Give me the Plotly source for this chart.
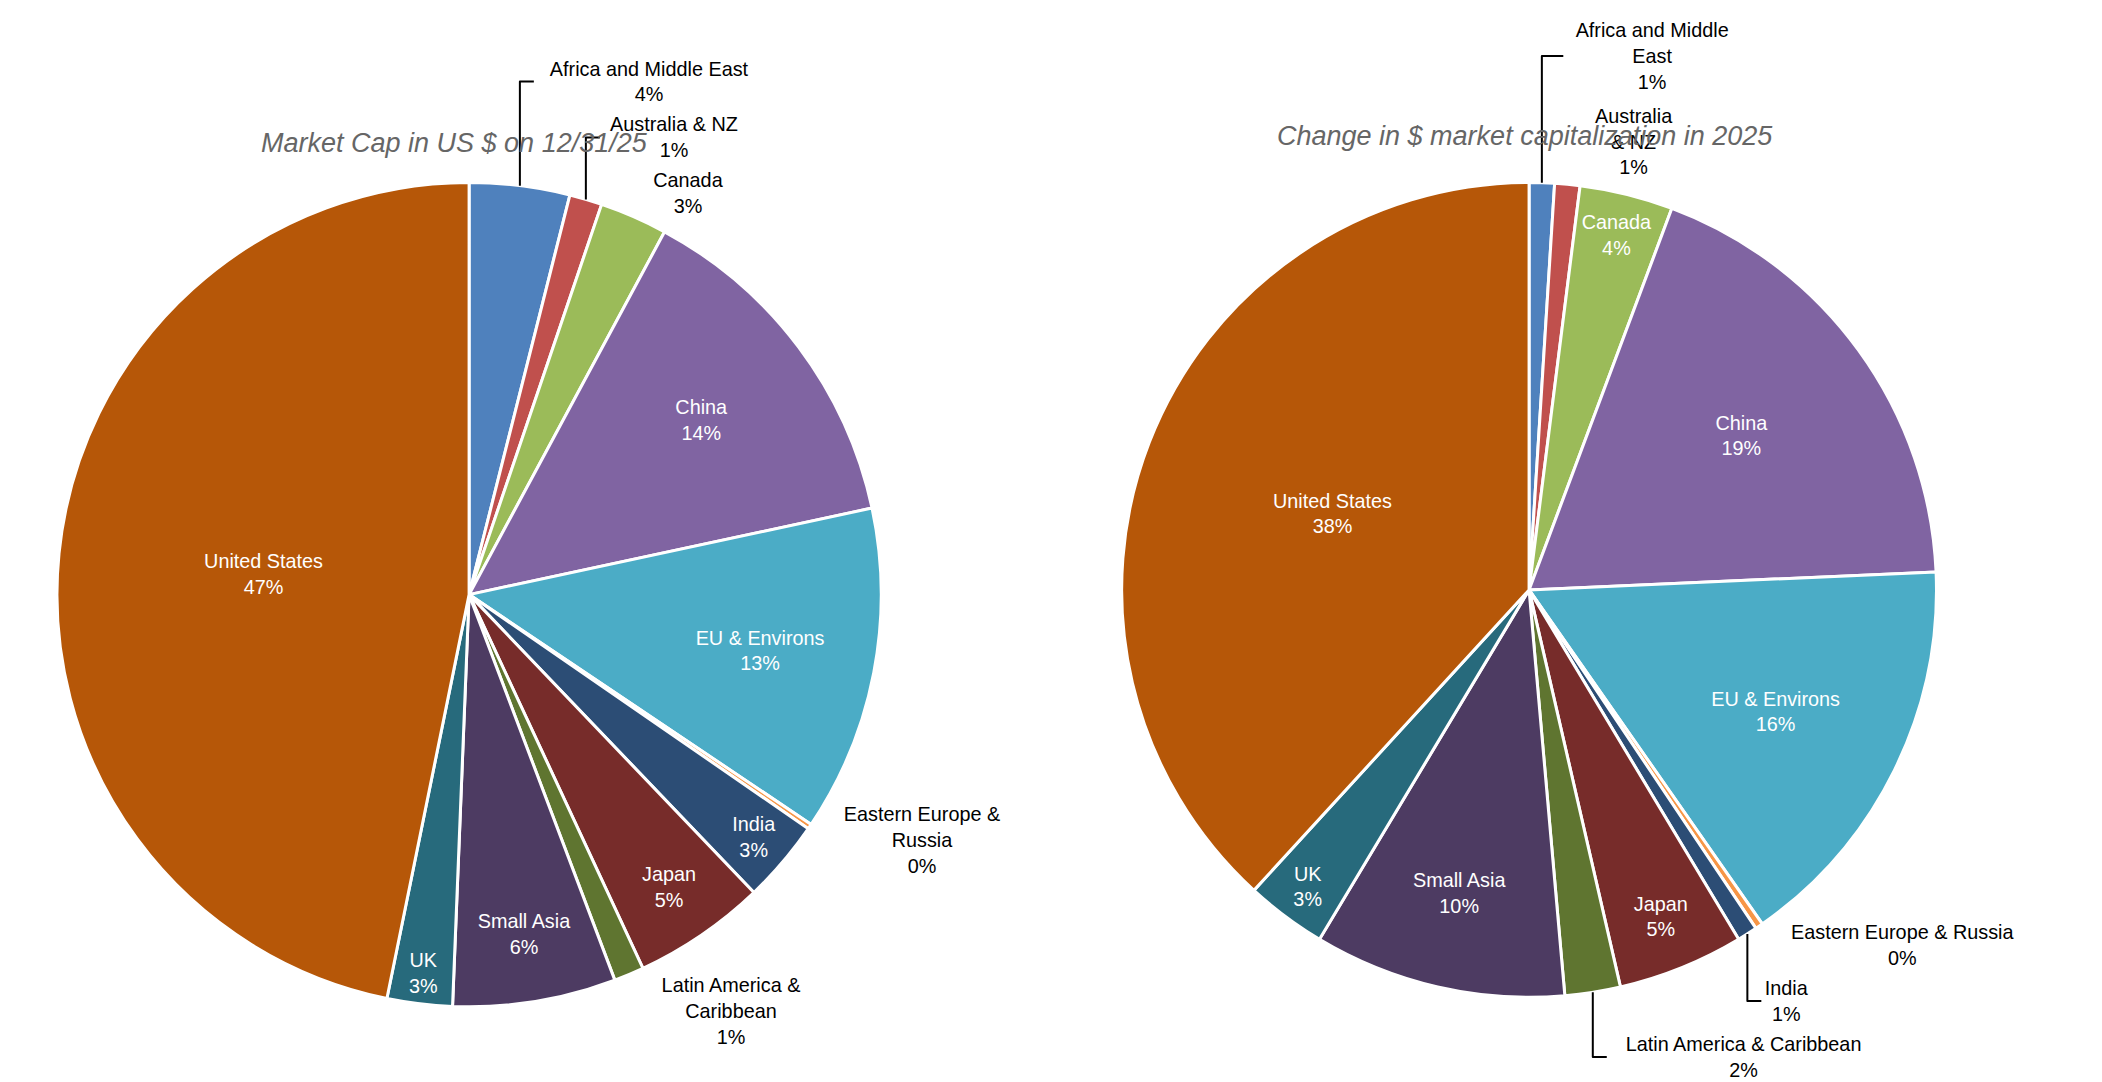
import plotly.graph_objects as go

# regions, clockwise from 12 o'clock
labels_left = ['Africa and Middle East', 'Australia & NZ', 'Canada', 'China', 'EU & Environs',
               'Eastern Europe &<br>Russia', 'India', 'Japan', 'Latin America &<br>Caribbean',
               'Small Asia', 'UK', 'United States']
labels_right = ['Africa and Middle<br>East', 'Australia<br>& NZ', 'Canada', 'China', 'EU & Environs',
                'Eastern Europe & Russia', 'India', 'Japan', 'Latin America & Caribbean',
                'Small Asia', 'UK', 'United States']
mcap_share = [4.0, 1.3, 2.7, 14.0, 13.0, 0.2, 3.3, 5.3, 1.2, 6.5, 2.6, 47.6]
change_share = [1.0, 1.0, 3.7, 18.6, 16.0, 0.3, 0.8, 5.0, 2.2, 10.0, 3.2, 38.2]

colors = ['#4F81BD', '#C0504D', '#9BBB59', '#8064A2', '#4BACC6', '#F79646',
          '#2C4D75', '#772C2A', '#5F7530', '#4D3B62', '#276A7C', '#B65708']

pos_left = ['outside', 'outside', 'outside', 'inside', 'inside', 'outside',
            'inside', 'inside', 'outside', 'inside', 'inside', 'inside']
pos_right = ['outside', 'outside', 'inside', 'inside', 'inside', 'outside',
             'outside', 'inside', 'outside', 'inside', 'inside', 'inside']

font = 'Liberation Sans, Arial, sans-serif'


def make_pie(labels, values, pos, dom):
    return go.Pie(
        labels=labels, values=values, sort=False, direction='clockwise', rotation=0,
        marker=dict(colors=colors, line=dict(color='white', width=3)),
        texttemplate='%{label}<br>%{percent:.0%}', textposition=pos,
        insidetextorientation='horizontal',
        insidetextfont=dict(color='white', size=23, family=font),
        outsidetextfont=dict(color='black', size=23, family=font),
        domain=dict(x=dom[0], y=dom[1]), showlegend=False, hoverinfo='label+percent',
    )


fig = go.Figure([
    make_pie(labels_left, mcap_share, pos_left, ([0.0, 0.43], [0.03, 0.905])),
    make_pie(labels_right, change_share, pos_right, ([0.52, 0.96], [0.04, 0.905])),
])

fig.update_layout(
    width=2102, height=1082, margin=dict(l=0, r=0, t=0, b=0),
    paper_bgcolor='white', font=dict(family=font),
    uniformtext=dict(minsize=18, mode='show'),
    annotations=[
        dict(text='<i>Market Cap in US $ on 12/31/25</i>', x=0.208, y=0.965, xref='paper', yref='paper',
             xanchor='center', showarrow=False, font=dict(size=27, color='#666666')),
        dict(text='<i>Change in $ market capitalization in 2025</i>', x=0.738, y=0.972, xref='paper',
             yref='paper', xanchor='center', showarrow=False, font=dict(size=27, color='#666666')),
    ],
)

fig.write_html('out.html')
